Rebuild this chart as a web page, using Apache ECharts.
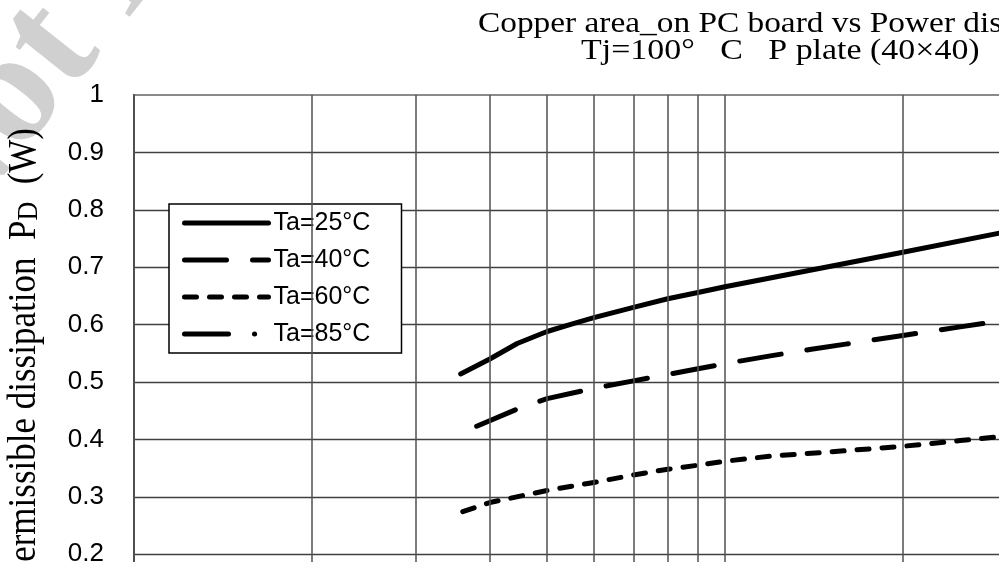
<!DOCTYPE html>
<html>
<head>
<meta charset="utf-8">
<script src="https://cdn.jsdelivr.net/npm/echarts@6/dist/echarts.min.js"></script>
<style>
html,body{margin:0;padding:0;background:#fff;overflow:hidden;}
#wrap{width:999px;height:562px;overflow:hidden;position:relative;}
#chart{width:1400px;height:750px;position:absolute;left:0;top:0;}
</style>
</head>
<body>
<div id="wrap"><div id="chart"></div></div>
<script>
// ---- data ----
const seriesNames = ['Ta=25°C', 'Ta=40°C', 'Ta=60°C', 'Ta=85°C'];
const x25 = [3.57, 4, 4.45, 5, 5.5, 6, 7, 8, 9, 10, 20, 30];
const y25 = [0.514, 0.540, 0.567, 0.588, 0.601, 0.612, 0.630, 0.645, 0.656, 0.666, 0.726, 0.762];
const x40 = [3.8, 4.5, 5, 6, 7, 8, 9, 10, 12, 14, 16, 18, 20, 25, 30];
const y40 = [0.423, 0.455, 0.471, 0.489, 0.502, 0.513, 0.523, 0.532, 0.546, 0.557, 0.566, 0.574, 0.581, 0.596, 0.608];
const x60 = [3.6, 4, 5, 6, 7, 8, 9, 10, 12, 15, 20, 25, 30];
const y60 = [0.274, 0.290, 0.311, 0.325, 0.338, 0.348, 0.355, 0.362, 0.371, 0.378, 0.388, 0.398, 0.406];
const x85 = [3.6, 5, 10, 20, 30];
const y85 = [0.103, 0.117, 0.133, 0.145, 0.152];
const xMinorGrid = [2, 3, 4, 5, 6, 7, 8, 9, 20, 30, 40, 50, 60, 70, 80, 90];
const dashes = ['solid', [42, 26], [12, 13], [44, 26, 0.1, 26]];
const titleLine1 = 'Copper area_on PC board vs Power dissipation';
const titleLine2 = 'Tj=100°   C   P plate (40×40)';
const yAxisTitle = 'Permissible dissipation  P{s|D}  (W)';
const watermark = 'Not Recommended';

function pairs(xs, ys) { return xs.map((x, i) => [x, ys[i]]); }

const chart = echarts.init(document.getElementById('chart'), null, {renderer: 'canvas'});

function lineSeries(idx, xs, ys) {
  return {
    type: 'line', name: seriesNames[idx], data: pairs(xs, ys),
    symbol: 'none', showSymbol: false, smooth: false, z: 3, silent: true,
    itemStyle: {color: '#000'},
    lineStyle: {color: '#000', width: 5, type: dashes[idx], cap: 'round', join: 'round'}
  };
}

function txt(x, y, text, font, align, extra) {
  return Object.assign({
    type: 'text', x: x, y: y, silent: true,
    style: {text: text, fill: '#000', font: font,
            textAlign: align, textVerticalAlign: 'middle', align: align, verticalAlign: 'middle'}
  }, extra || {});
}

const option = {
  animation: false,
  backgroundColor: '#fff',
  grid: {
    left: 134, top: 95, width: 1182, height: 574,
    show: true, borderColor: '#8a8a8a', borderWidth: 2, backgroundColor: 'transparent'
  },
  xAxis: {
    type: 'log', logBase: 10, min: 1, max: 100,
    axisLine: {show: false},
    axisTick: {show: false},
    axisLabel: {show: false},
    splitLine: {show: true, showMinLine: false, showMaxLine: false, lineStyle: {color: '#505050', width: 1.5}}
  },
  yAxis: {
    type: 'value', min: 0, max: 1, interval: 0.1,
    axisLine: {show: true, lineStyle: {color: '#505050', width: 2}},
    axisTick: {show: false},
    axisLabel: {
      show: true, margin: 30, color: '#000', fontSize: 26, fontFamily: 'Liberation Sans',
      formatter: v => String(Math.round(v * 10) / 10)
    },
    splitLine: {show: true, showMinLine: false, showMaxLine: false, lineStyle: {color: '#404040', width: 1.3}}
  },
  legend: {
    data: seriesNames.map((n, i) => ({
      name: n,
      itemStyle: {opacity: 0},
      lineStyle: {color: '#000', width: 5, type: dashes[i], cap: 'round'}
    })),
    orient: 'vertical', left: 169, top: 204,
    padding: [6, 13, 6, 13], itemGap: 11, itemWidth: 84, itemHeight: 14,
    backgroundColor: '#fff', borderColor: '#000', borderWidth: 1.5,
    textStyle: {fontSize: 25, fontFamily: 'Liberation Sans', color: '#000', lineHeight: 26, width: 115},
    selectedMode: false
  },
  graphic: [
    {
      type: 'text', x: -22, y: 270, rotation: 0.9, z: 0, silent: true,
      style: {text: watermark, fill: '#d0d0d0', font: 'bold 160px "Liberation Serif"',
              textAlign: 'left', textVerticalAlign: 'bottom', align: 'left', verticalAlign: 'bottom'}
    },
    txt(478, 24, titleLine1, '29px "Liberation Serif"', 'left', {scaleX: 1.15}),
    txt(581, 51, titleLine2, '29px "Liberation Serif"', 'left', {scaleX: 1.17}),
    {
      type: 'text', x: 24, y: 128, rotation: Math.PI / 2, scaleY: 1.15, silent: true,
      style: {text: yAxisTitle, fill: '#000', font: '35px "Liberation Serif"',
              fontSize: 35, fontFamily: 'Liberation Serif',
              textAlign: 'right', textVerticalAlign: 'middle', align: 'right', verticalAlign: 'middle',
              rich: {s: {fontSize: 26, fontFamily: 'Liberation Serif', verticalAlign: 'bottom', fill: '#000'}}}
    }
  ],
  series: [
    {
      name: 'grid', type: 'line', data: [], z: 1, silent: true,
      markLine: {
        silent: true, symbol: ['none', 'none'], animation: false,
        label: {show: false},
        lineStyle: {color: '#505050', width: 1.5, type: 'solid'},
        data: xMinorGrid.map(v => ({xAxis: v}))
      }
    },
    lineSeries(0, x25, y25),
    lineSeries(1, x40, y40),
    lineSeries(2, x60, y60),
    lineSeries(3, x85, y85)
  ]
};
chart.setOption(option);
</script>
</body>
</html>
